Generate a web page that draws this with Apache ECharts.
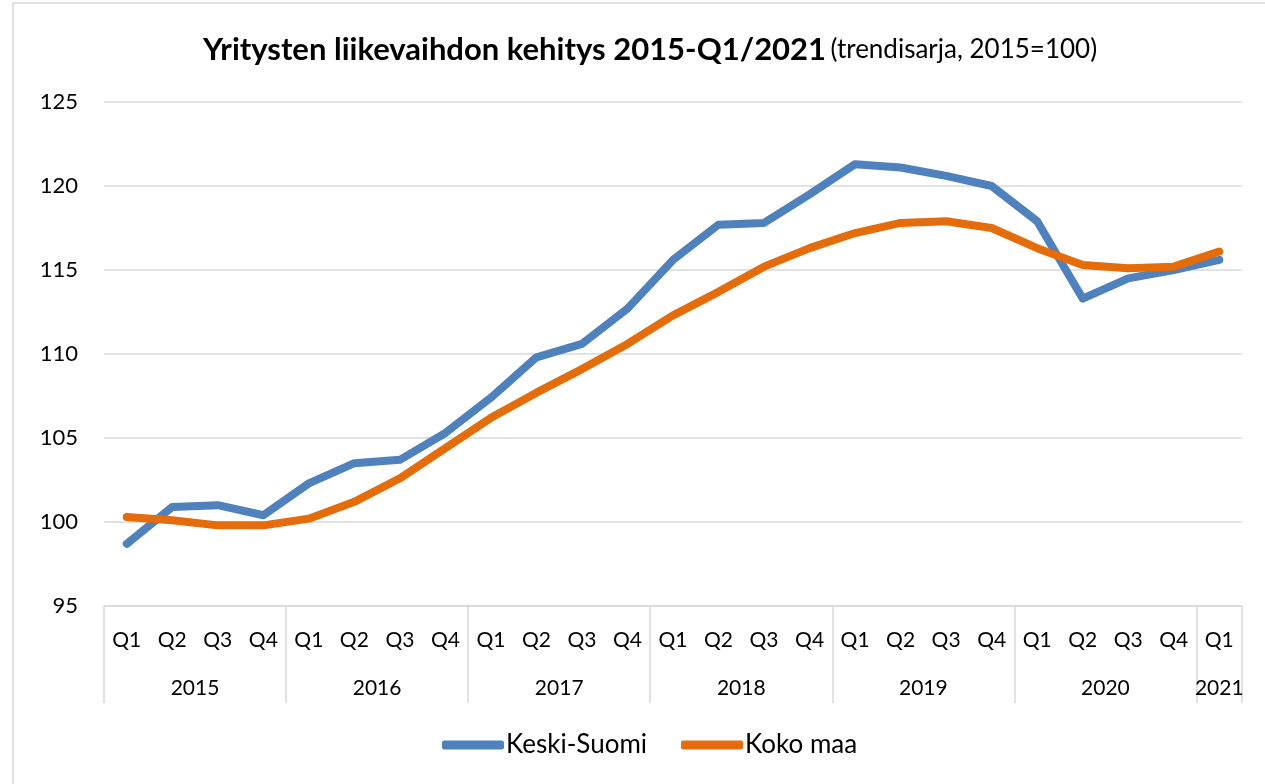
<!DOCTYPE html>
<html>
<head>
<meta charset="utf-8">
<script src="https://cdn.jsdelivr.net/npm/echarts@6/dist/echarts.min.js"></script>
<style>
  html, body { margin: 0; padding: 0; background: #fff; }
  #chart { width: 1265px; height: 784px; }
</style>
</head>
<body>
<div id="chart"></div>
<script>
var quarters = ['Q1','Q2','Q3','Q4','Q1','Q2','Q3','Q4','Q1','Q2','Q3','Q4','Q1','Q2','Q3','Q4',
                'Q1','Q2','Q3','Q4','Q1','Q2','Q3','Q4','Q1'];
var years = ['2015','2016','2017','2018','2019','2020','2021'];
var quartersPerYear = [4, 4, 4, 4, 4, 4, 1];
var keskiSuomi = [98.7, 100.9, 101.0, 100.4, 102.3, 103.5, 103.7, 105.3, 107.4, 109.8, 110.6, 112.7,
                  115.6, 117.7, 117.8, 119.5, 121.3, 121.1, 120.6, 120.0, 117.9, 113.3, 114.5, 115.0, 115.6];
var kokoMaa = [100.3, 100.1, 99.8, 99.8, 100.2, 101.2, 102.6, 104.4, 106.2, 107.7, 109.1, 110.6,
               112.3, 113.7, 115.2, 116.3, 117.2, 117.8, 117.9, 117.5, 116.3, 115.3, 115.1, 115.2, 116.1];

// year row: half-quarter slots so year names can sit in the middle of their group
var yearSlots = [], yearLabelIdx = {}, yearTickIdx = {};
(function () {
  var n = quarters.length * 2 + 1;
  for (var i = 0; i < n; i++) yearSlots.push('');
  var pos = 0;
  yearTickIdx[0] = true;
  years.forEach(function (y, k) {
    var mid = pos * 2 + quartersPerYear[k];
    yearSlots[mid] = y;
    yearLabelIdx[mid] = true;
    pos += quartersPerYear[k];
    yearTickIdx[pos * 2] = true;
  });
})();

var gray = '#d9d9d9';
var font = 'Lato, "Open Sans", sans-serif';

var chart = echarts.init(document.getElementById('chart'));
chart.setOption({
  animation: false,
  textStyle: { fontFamily: font, color: '#000' },
  title: {
    left: 198,
    top: 29,
    text: '{b|Yritysten liikevaihdon kehitys 2015-Q1/2021} {n|(trendisarja, 2015=100)}',
    textStyle: {
      rich: {
        b: { fontFamily: font, fontSize: 31, fontWeight: 'bold', color: '#000' },
        n: { fontFamily: font, fontSize: 26, fontWeight: 'normal', color: '#000' }
      }
    }
  },
  graphic: [{
    type: 'rect',
    shape: { x: 13, y: 3, width: 1300, height: 800 },
    style: { fill: 'none', stroke: gray, lineWidth: 1.5 },
    silent: true
  }],
  grid: { left: 104, right: 23, top: 102, bottom: 178 },
  legend: {
    bottom: 21,
    left: 437,
    icon: 'roundRect',
    itemWidth: 62,
    itemHeight: 9,
    itemGap: 34,
    textStyle: { fontFamily: font, fontSize: 26, color: '#000', padding: [0, 0, 0, -3] },
    data: ['Keski-Suomi', 'Koko maa']
  },
  xAxis: [{
    type: 'category',
    data: quarters,
    axisLine: { show: false },
    axisTick: { show: false },
    axisLabel: { fontSize: 21, color: '#000', margin: 24, interval: 0 }
  }, {
    type: 'category',
    position: 'bottom',
    boundaryGap: false,
    data: yearSlots,
    axisLine: { show: true, lineStyle: { color: gray, width: 1.5 } },
    axisTick: {
      show: true,
      inside: false,
      length: 97,
      interval: function (i) { return !!yearTickIdx[i]; },
      lineStyle: { color: gray, width: 1.5 }
    },
    axisLabel: {
      fontSize: 21,
      color: '#000',
      margin: 72,
      interval: function (i) { return !!yearLabelIdx[i]; }
    }
  }],
  yAxis: {
    type: 'value',
    min: 95,
    max: 125,
    interval: 5,
    axisLine: { show: false },
    axisTick: { show: false },
    axisLabel: { fontSize: 22, color: '#000', margin: 26 },
    splitLine: { lineStyle: { color: gray, width: 1.5 } }
  },
  series: [{
    name: 'Keski-Suomi',
    type: 'line',
    xAxisIndex: 0,
    data: keskiSuomi,
    symbol: 'none',
    color: '#4f81bd',
    lineStyle: { width: 8, color: '#4f81bd', cap: 'round', join: 'round' }
  }, {
    name: 'Koko maa',
    type: 'line',
    xAxisIndex: 0,
    data: kokoMaa,
    symbol: 'none',
    color: '#e46c0a',
    lineStyle: { width: 8, color: '#e46c0a', cap: 'round', join: 'round' }
  }]
});
</script>
</body>
</html>
